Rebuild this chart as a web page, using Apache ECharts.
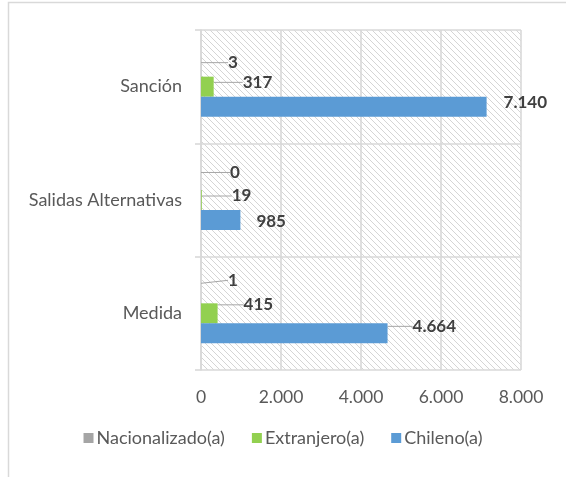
<!DOCTYPE html>
<html>
<head>
<meta charset="utf-8">
<script src="https://cdn.jsdelivr.net/npm/echarts@6/dist/echarts.min.js"></script>
<style>
html,body{margin:0;padding:0;background:#fff;}
#chart{width:566px;height:477px;}
</style>
</head>
<body>
<div id="chart"></div>
<script>
const categories = ['Medida', 'Salidas Alternativas', 'Sanción'];
const seriesNames = ['Nacionalizado(a)', 'Extranjero(a)', 'Chileno(a)'];
const nacionalizado = [1, 0, 3];
const extranjero = [415, 19, 317];
const chileno = [4664, 985, 7140];
const xTicks = [0, 2000, 4000, 6000, 8000];

const colors = ['#A5A5A5', '#92D050', '#5B9BD5'];
const FONT = 'Lato, "Liberation Sans", sans-serif';

// label offsets (layout only) [seriesIndex][dataIndex] -> [dx, dy]
const labelOffsets = [
  [[22, -13], [24, -7.5], [22, -4]],
  [[21, -8.5], [25, -4], [24, -4.3]],
  [[20, -7], [11, 1], [12, -4]]
];
const noLine = [[], [], [1, 2]];

function fmt(v) {
  return String(v).replace(/\B(?=(\d{3})+(?!\d))/g, '.');
}

// hatch pattern
const T = 6;
const tile = document.createElement('canvas');
tile.width = T; tile.height = T;
const tctx = tile.getContext('2d');
tctx.fillStyle = '#ffffff';
tctx.fillRect(0, 0, T, T);
tctx.fillStyle = '#d5d5d5';
for (let i = 0; i < T; i++) tctx.fillRect(i, i, 1, 1);

const chart = echarts.init(document.getElementById('chart'), null, {renderer: 'canvas'});

const allData = [nacionalizado, extranjero, chileno];

const series = allData.map((arr, si) => ({
  name: seriesNames[si],
  type: 'bar',
  barGap: '0%',
  barCategoryGap: '47%',
  itemStyle: {color: colors[si]},
  label: {
    show: true,
    position: 'right',
    distance: 5,
    formatter: p => fmt(p.value),
    fontFamily: FONT,
    fontWeight: 'bold',
    fontSize: 17,
    color: '#404040'
  },
  labelLine: {
    show: true,
    lineStyle: {color: '#A6A6A6', width: 1}
  },
  labelLayout: function (params) {
    const o = labelOffsets[params.seriesIndex][params.dataIndex];
    return {dx: o[0], dy: o[1]};
  },
  data: arr.map((v, di) => noLine[si].indexOf(di) >= 0 ? {value: v, labelLine: {show: false}} : v)
}));

const option = {
  animation: false,
  backgroundColor: '#ffffff',
  textStyle: {fontFamily: FONT},
  graphic: [{
    type: 'rect',
    left: 6, top: 0,
    shape: {width: 620, height: 520},
    style: {fill: 'none', stroke: '#D9D9D9', lineWidth: 1.5},
    silent: true
  }],
  grid: {
    left: 201, right: 45, top: 30, bottom: 107,
    show: true,
    backgroundColor: {image: tile, repeat: 'repeat'},
    borderWidth: 0
  },
  legend: {
    data: seriesNames,
    bottom: 25,
    left: 'center',
    itemWidth: 10,
    itemHeight: 10,
    itemGap: 27,
    icon: 'rect',
    textStyle: {fontFamily: FONT, fontSize: 18, color: '#595959', padding: [0, 0, 0, -2]}
  },
  xAxis: {
    type: 'value',
    min: xTicks[0],
    max: xTicks[xTicks.length - 1],
    interval: xTicks[1] - xTicks[0],
    axisLine: {show: false},
    axisTick: {show: false},
    splitLine: {show: true, lineStyle: {color: '#D9D9D9', width: 1.6}},
    axisLabel: {
      formatter: v => fmt(v),
      fontFamily: FONT, fontSize: 17.5, color: '#595959', margin: 18
    }
  },
  yAxis: {
    type: 'category',
    data: categories,
    axisLine: {show: true, lineStyle: {color: '#D9D9D9', width: 1.6}},
    axisTick: {show: true, length: 6, lineStyle: {color: '#D9D9D9', width: 1.6}},
    splitLine: {show: true, lineStyle: {color: '#D9D9D9', width: 1.6}},
    axisLabel: {fontFamily: FONT, fontSize: 18, color: '#595959', margin: 19}
  },
  series: series
};

chart.setOption(option);
</script>
</body>
</html>
